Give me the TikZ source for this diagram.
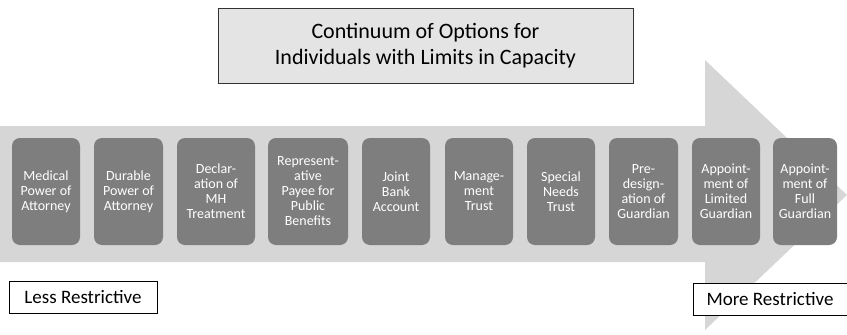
\documentclass[tikz,border=0pt]{standalone}
\usepackage{fontspec}
\setmainfont{Carlito}
\usepackage{tikz}
\usetikzlibrary{shapes,positioning}

\definecolor{arrowgray}{HTML}{D6D6D6}
\definecolor{optgray}{HTML}{7E7E7E}
\definecolor{titlegray}{HTML}{E4E4E4}

\begin{document}
\begin{tikzpicture}[x=1pt, y=-1pt,
    option/.style={fill=optgray, rounded corners=8pt, text=white, align=center,
      minimum height=107pt, inner sep=0pt, font=\fontsize{14}{15}\selectfont},
    label/.style={draw=black, fill=white, minimum height=32pt, inner sep=0pt,
      font=\fontsize{19}{22}\selectfont}]
   \useasboundingbox (0,0) rectangle (847,335);
   \fill[arrowgray] (0,126) -- (705,126) -- (705,60) -- (847,195) -- (705,330)
     -- (705,262) -- (0,262) -- cycle;
   \node[draw=black!80, fill=titlegray, minimum width=415pt, minimum height=75pt,
     align=center, inner sep=0pt, font=\fontsize{22}{26}\selectfont] (title) at (425.5,45.5)
     {Continuum of Options for\\Individuals with Limits in Capacity};
   \node[option, minimum width=68pt] (med) at (46,191.5) {Medical\\Power of\\Attorney};
   \node[option, minimum width=69pt] (dur) at (128.5,191.5) {Durable\\Power of\\Attorney};
   \node[option, minimum width=78pt] (decl) at (216,191.5) {Declar-\\ation of\\MH\\Treatment};
   \node[option, minimum width=80pt] (rep) at (308,191.5) {Represent-\\ative\\Payee for\\Public\\Benefits};
   \node[option, minimum width=68pt] (joint) at (396,191.5) {Joint\\Bank\\Account};
   \node[option, minimum width=68pt] (mgmt) at (479,191.5) {Manage-\\ment\\Trust};
   \node[option, minimum width=68pt] (snt) at (561,191.5) {Special\\Needs\\Trust};
   \node[option, minimum width=69pt] (pre) at (643.5,191.5) {Pre-\\design-\\ation of\\Guardian};
   \node[option, minimum width=68pt] (limg) at (726,191.5) {Appoint-\\ment of\\Limited\\Guardian};
   \node[option, minimum width=64pt] (fullg) at (805,191.5) {Appoint-\\ment of\\Full\\Guardian};
   \node[label, minimum width=148pt] (less) at (83,297) {Less Restrictive};
   \node[label, minimum width=154pt] (more) at (770,299) {More Restrictive};
\end{tikzpicture}
\end{document}
